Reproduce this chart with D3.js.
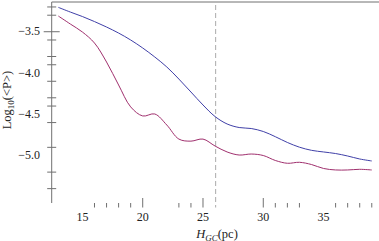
<!DOCTYPE html>
<html>
<head>
<meta charset="utf-8">
<script src="https://cdn.jsdelivr.net/npm/d3@7"></script>
<style>
  body { margin: 0; background: #fff; }
</style>
</head>
<body>
<div id="graph1"></div>
<script>
// chart data
let hgc = [13, 14, 15, 16, 17, 18, 19, 20, 21, 22, 23, 24, 25, 26, 27, 28, 29, 30, 31, 32, 33, 34, 35, 36, 37, 38, 39];
let logP_blue = [-3.205, -3.262, -3.316, -3.377, -3.443, -3.516, -3.600, -3.697, -3.806, -3.927, -4.073, -4.230, -4.387, -4.527,
    -4.617, -4.660, -4.672, -4.708, -4.771, -4.841, -4.898, -4.936, -4.956, -4.975, -5.005, -5.041, -5.065];
let logP_red = [-3.310, -3.407, -3.504, -3.637, -3.867, -4.145, -4.410, -4.520, -4.496, -4.630, -4.800, -4.825, -4.800, -4.884,
    -4.956, -4.993, -4.981, -4.999, -5.059, -5.093, -5.081, -5.108, -5.156, -5.174, -5.174, -5.166, -5.174];

let x_labels = [15, 20, 25, 30, 35];
let x_major_ticks = [20, 25, 30];
let x_minor_ticks = [16, 17, 18, 19, 23, 24, 31, 32, 33, 36, 37, 38, 39];
let y_labels = [-3.5, -4.0, -4.5, -5.0];
let y_major_ticks = [-3.5];
let y_minor_ticks = [-3.2, -3.3, -3.6, -3.8, -3.9, -4.1, -4.3, -4.4, -4.6, -4.9, -5.2, -5.4];
let marker_x = 26.05;

let width = 379, height = 241;
let margin = {left: 51.7, right: 0, top: 2, bottom: 38};
let serif = "'Liberation Serif', 'Times New Roman', serif";

let svg = d3.select("#graph1")
    .append("svg")
    .attr("width", width)
    .attr("height", height)
    .style("font-family", serif);

let x = d3.scaleLinear()
    .domain([12.45, 39.6])
    .range([margin.left, width - margin.right]);

let y = d3.scaleLinear()
    .domain([-5.574, -3.14])
    .range([height - margin.bottom, margin.top]);

let axisColor = "#707070";

// top frame line + left axis line
svg.append("line")
    .attr("x1", x.range()[0]).attr("x2", width)
    .attr("y1", margin.top).attr("y2", margin.top)
    .attr("stroke", axisColor).attr("stroke-width", 1);
svg.append("line")
    .attr("x1", margin.left).attr("x2", margin.left)
    .attr("y1", margin.top).attr("y2", height - margin.bottom)
    .attr("stroke", axisColor).attr("stroke-width", 1);

// y ticks cross the axis
svg.selectAll(".ytick-minor").data(y_minor_ticks).enter()
    .append("line")
    .attr("x1", margin.left - 4.5).attr("x2", margin.left + 4.5)
    .attr("y1", d => y(d)).attr("y2", d => y(d))
    .attr("stroke", axisColor);
svg.selectAll(".ytick-major").data(y_major_ticks).enter()
    .append("line")
    .attr("x1", margin.left - 8).attr("x2", margin.left + 8)
    .attr("y1", d => y(d)).attr("y2", d => y(d))
    .attr("stroke", axisColor);

svg.selectAll(".ylab").data(y_labels).enter()
    .append("text")
    .attr("x", 40)
    .attr("y", d => y(d) + 3.5)
    .attr("font-family", serif)
    .style("text-anchor", "end")
    .style("font-size", "12px")
    .attr("fill", "#222")
    .text(d => d3.format(".1f")(d).replace("-", "\u2212"));

// x ticks hang below the plot, no axis line
let tickBottom = height - margin.bottom + 4.5;
svg.selectAll(".xtick-minor").data(x_minor_ticks).enter()
    .append("line")
    .attr("x1", d => x(d)).attr("x2", d => x(d))
    .attr("y1", tickBottom - 4.5).attr("y2", tickBottom)
    .attr("stroke", axisColor);
svg.selectAll(".xtick-major").data(x_major_ticks).enter()
    .append("line")
    .attr("x1", d => x(d)).attr("x2", d => x(d))
    .attr("y1", tickBottom - 9.5).attr("y2", tickBottom)
    .attr("stroke", axisColor);

svg.selectAll(".xlab").data(x_labels).enter()
    .append("text")
    .attr("x", d => x(d))
    .attr("y", 221)
    .attr("font-family", serif)
    .style("text-anchor", "middle")
    .style("font-size", "12px")
    .attr("fill", "#222")
    .text(d => d);

// dashed marker line
svg.append("line")
    .attr("x1", x(marker_x)).attr("x2", x(marker_x))
    .attr("y1", margin.top + 3).attr("y2", tickBottom)
    .attr("stroke", "#aaa")
    .attr("stroke-dasharray", "5,3");

// curves
let line = d3.line()
    .x((d, i) => x(hgc[i]))
    .y(d => y(d))
    .curve(d3.curveCatmullRom);

svg.append("path").datum(logP_blue)
    .attr("d", line)
    .attr("fill", "none")
    .attr("stroke", "#4040a8")
    .attr("stroke-width", 1);

svg.append("path").datum(logP_red)
    .attr("d", line)
    .attr("fill", "none")
    .attr("stroke", "#a0306e")
    .attr("stroke-width", 1);

// axis titles
let xt = svg.append("text")
    .attr("x", 217)
    .attr("y", 238)
    .attr("font-family", serif)
    .style("text-anchor", "middle")
    .style("font-size", "12.5px")
    .attr("fill", "#222");
xt.append("tspan").style("font-style", "italic").text("H");
xt.append("tspan").style("font-style", "italic").style("font-size", "9px").attr("dy", 2.5).text("GC");
xt.append("tspan").attr("dy", -2.5).text("(pc)");

let yt = svg.append("text")
    .attr("transform", `translate(${11}, ${100}) rotate(-90)`)
    .attr("font-family", serif)
    .style("text-anchor", "middle")
    .style("font-size", "12.5px")
    .attr("fill", "#222");
yt.append("tspan").text("Log");
yt.append("tspan").style("font-size", "9px").attr("dy", 2.5).text("10");
yt.append("tspan").attr("dy", -2.5).text("(<P>)");
</script>
</body>
</html>
